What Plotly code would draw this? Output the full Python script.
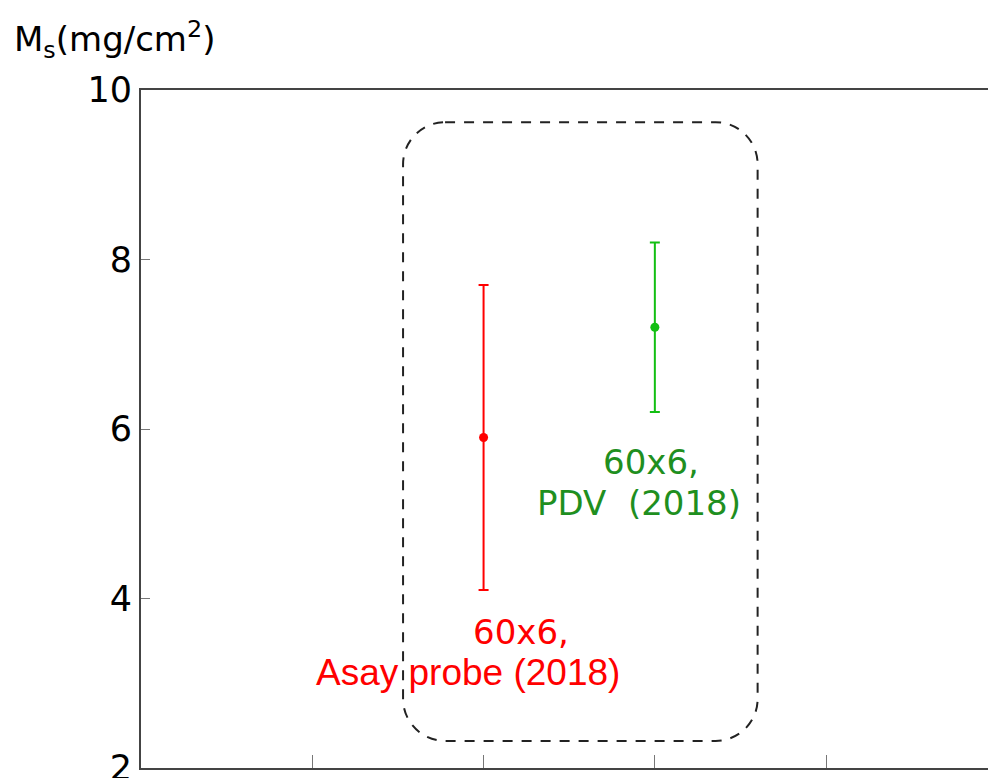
import plotly.graph_objects as go

# ---- data ----
x_pos = [2, 3]
ms_values = [5.9, 7.2]
ms_errors = [1.8, 1.0]
series_names = ["60x6, Asay probe (2018)", "60x6, PDV (2018)"]
marker_colors = ["#ff0000", "#13bf13"]
label_colors = ["#ff0000", "#1f8f1f"]
y_ticks = [2, 4, 6, 8, 10]
x_ticks = [1, 2, 3, 4]

# dashed grouping box (data coords)
box_x = [1.53, 3.60]
box_y = [2.32, 9.62]

# ---- layout geometry ----
W, H = 988, 778
ML, MR, MT, MB = 141, 0, 90, 10
x_range = [0, 4.945]
y_range = [2, 10]
plot_w = W - ML - MR
plot_h = H - MT - MB
sx = plot_w / (x_range[1] - x_range[0])
sy = plot_h / (y_range[1] - y_range[0])

fig = go.Figure()
for i in range(len(x_pos)):
    fig.add_trace(go.Scatter(
        x=[x_pos[i]], y=[ms_values[i]], mode="markers", name=series_names[i],
        marker=dict(color=marker_colors[i], size=9),
        error_y=dict(type="data", array=[ms_errors[i]], symmetric=True,
                     color=marker_colors[i], thickness=2, width=5),
        showlegend=False))

# rounded dashed rectangle
R = 42
rx, ry = R / sx, R / sy
k = 0.5523
x0, x1 = box_x
y0, y1 = box_y
path = (
    f"M {x0+rx},{y1} L {x1-rx},{y1} "
    f"C {x1-rx+k*rx},{y1} {x1},{y1-ry+k*ry} {x1},{y1-ry} "
    f"L {x1},{y0+ry} "
    f"C {x1},{y0+ry-k*ry} {x1-rx+k*rx},{y0} {x1-rx},{y0} "
    f"L {x0+rx},{y0} "
    f"C {x0+rx-k*rx},{y0} {x0},{y0+ry-k*ry} {x0},{y0+ry} "
    f"L {x0},{y1-ry} "
    f"C {x0},{y1-ry+k*ry} {x0+rx-k*rx},{y1} {x0+rx},{y1} Z"
)
fig.add_shape(type="path", path=path, xref="x", yref="y",
              line=dict(color="#222222", width=2, dash="10px,9px"), layer="below")

# labels
ann = [
    (2.22, 3.60, "60x6,", label_colors[0], "DejaVu Sans", 34),
    (1.91, 3.13, "Asay probe (2018)", label_colors[0], "Liberation Sans", 37),
    (2.98, 5.61, "60x6,", label_colors[1], "DejaVu Sans", 34),
    (2.91, 5.13, "PDV  (2018)", label_colors[1], "DejaVu Sans", 34),
]
for ax_, ay_, t, c, f, s in ann:
    fig.add_annotation(x=ax_, y=ay_, text=t, showarrow=False, xref="x", yref="y",
                       font=dict(color=c, family=f, size=s), xanchor="center", yanchor="middle")

fig.add_annotation(x=-(ML - 12) / plot_w, y=1 + (MT - 40) / plot_h, xref="paper", yref="paper",
                   text="M<sub>s</sub>(mg/cm<sup>2</sup>)", showarrow=False,
                   xanchor="left", yanchor="middle",
                   font=dict(family="DejaVu Sans", size=34, color="black"))

fig.update_layout(
    width=W, height=H, margin=dict(l=ML, r=MR, t=MT, b=MB, autoexpand=False),
    plot_bgcolor="white", paper_bgcolor="white",
    xaxis=dict(range=x_range, tickvals=x_ticks, showticklabels=False, ticks="inside",
               ticklen=13, tickcolor="#777777", tickwidth=1, automargin=False,
               showline=True, linecolor="#444444", linewidth=2, mirror=True,
               showgrid=False, zeroline=False),
    yaxis=dict(range=y_range, tickvals=y_ticks, ticks="inside", ticklen=9,
               tickcolor="#777777", tickwidth=1, ticklabeloverflow="allow", automargin=False,
               showline=True, linecolor="#444444", linewidth=2, mirror=False,
               showgrid=False, zeroline=False,
               tickfont=dict(family="DejaVu Sans", size=35, color="black")),
)

fig.write_html("out.html")
